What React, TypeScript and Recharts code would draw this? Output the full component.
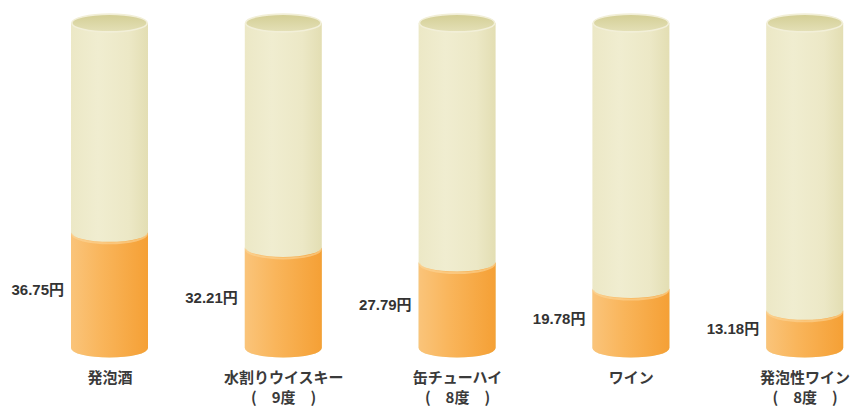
import React from 'react';
import { BarChart, Bar, XAxis, YAxis, LabelList } from 'recharts';

const categories = ['発泡酒', '水割りウイスキー', '缶チューハイ', 'ワイン', '発泡性ワイン'];
const subLabels = ['', '(　9度　)', '(　8度　)', '', '(　8度　)'];
const prices = [36.75, 32.21, 27.79, 19.78, 13.18];
const priceLabels = ['36.75円', '32.21円', '27.79円', '19.78円', '13.18円'];
const yDomain = [0, 100];

const data = categories.map((name, i) => ({
  name,
  sub: subLabels[i],
  price: prices[i],
  label: priceLabels[i],
}));

const RY = 9.5;
const BASE_LIFT = 6;
const FONT = '"Liberation Sans", Arial, "Noto Sans CJK JP", sans-serif';
const JFONT = '"Noto Sans CJK JP", "Liberation Sans", sans-serif';

const BeigeCylinder = (props: any) => {
  const { x, y, width, height } = props;
  if (width == null) return null;
  const rx = width / 2;
  const cx = x + rx;
  const yb = y + height - BASE_LIFT;
  const body = `M ${x} ${y} L ${x} ${yb} A ${rx} ${RY} 0 0 0 ${x + width} ${yb} L ${x + width} ${y} Z`;
  return (
    <g>
      <path d={body} fill="url(#beigeBody)" />
      <ellipse cx={cx} cy={y} rx={rx - 0.8} ry={RY - 0.6} fill="url(#beigeTop)" stroke="#F2EFD8" strokeWidth={1.6} />
    </g>
  );
};

const OrangeShape = (props: any) => {
  const { x, y, width, height } = props;
  if (width == null || height == null) return null;
  const rx = width / 2;
  const yb = y + height - BASE_LIFT;
  const d = `M ${x} ${y} L ${x} ${yb} A ${rx} ${RY} 0 0 0 ${x + width} ${yb} L ${x + width} ${y} A ${rx} ${RY} 0 0 1 ${x} ${y} Z`;
  const hl = `M ${x + 1} ${y + 1.5} A ${rx - 1} ${RY} 0 0 0 ${x + width - 1} ${y + 1.5}`;
  return (
    <g>
      <path d={d} fill="url(#orangeBody)" />
      <path d={hl} fill="none" stroke="#FBD597" strokeWidth={2} opacity={0.6} />
    </g>
  );
};

const ValueLabel = (props: any) => {
  const { x, y, height, value } = props;
  const cy = y + (height - BASE_LIFT) / 2;
  return (
    <text x={x - 7} y={cy} dy="0.35em" textAnchor="end" fontFamily={FONT} fontWeight="bold" fontSize={15} fill="#333">
      {value}
    </text>
  );
};

const CategoryTick = (props: any) => {
  const { x, payload } = props;
  const idx = payload.index;
  const sub = subLabels[idx];
  return (
    <g>
      <text x={x} y={383} textAnchor="middle" fontFamily={JFONT} fontWeight="bold" fontSize={15} fill="#3a3a3a">
        {payload.value}
      </text>
      {sub ? (
        <text x={x} y={403} textAnchor="middle" fontFamily={JFONT} fontWeight="bold" fontSize={15} fill="#3a3a3a">
          {sub}
        </text>
      ) : null}
    </g>
  );
};

export default function App() {
  return (
    <div style={{ position: 'absolute', left: 0, top: 0, width: 854, height: 409, background: '#fff' }}>
      <BarChart
        width={854}
        height={409}
        data={data}
        margin={{ top: 23, right: -38, bottom: 0, left: 23 }}
      >
        <defs>
          <linearGradient id="beigeBody" x1="0" y1="0" x2="1" y2="0">
            <stop offset="0%" stopColor="#ECE8C6" />
            <stop offset="35%" stopColor="#F0EDD0" />
            <stop offset="75%" stopColor="#ECE8C6" />
            <stop offset="100%" stopColor="#E3DEB3" />
          </linearGradient>
          <linearGradient id="beigeTop" x1="0" y1="0" x2="0" y2="1">
            <stop offset="0%" stopColor="#D3CE94" />
            <stop offset="100%" stopColor="#E4E0B7" />
          </linearGradient>
          <linearGradient id="orangeBody" x1="0" y1="0" x2="1" y2="0">
            <stop offset="0%" stopColor="#FAC47A" />
            <stop offset="40%" stopColor="#F9B55B" />
            <stop offset="100%" stopColor="#F5A035" />
          </linearGradient>
        </defs>
        <XAxis
          dataKey="name"
          axisLine={false}
          tickLine={false}
          interval={0}
          height={55}
          tick={<CategoryTick />}
        />
        <YAxis hide domain={yDomain} />
        <Bar
          dataKey="price"
          barSize={77}
          isAnimationActive={false}
          background={<BeigeCylinder />}
          shape={<OrangeShape />}
        >
          <LabelList dataKey="label" content={<ValueLabel />} />
        </Bar>
      </BarChart>
    </div>
  );
}
